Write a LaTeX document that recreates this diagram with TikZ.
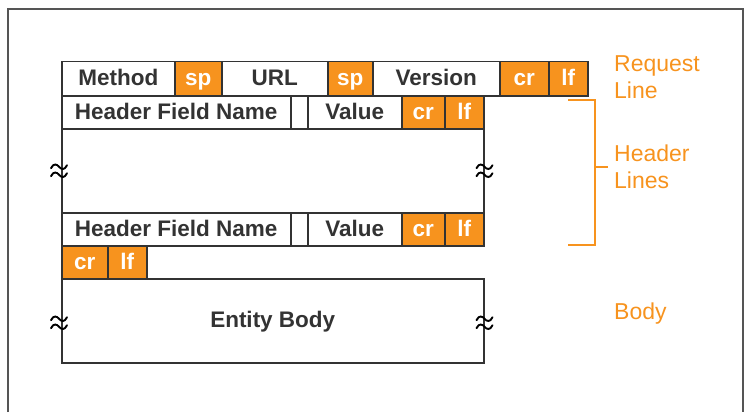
\documentclass[tikz,border=0pt]{standalone}
\usepackage{fontspec}
\setmainfont{Liberation Sans}
\definecolor{httporange}{HTML}{F7931E}
\definecolor{edge}{HTML}{333333}
\definecolor{frame}{HTML}{555555}
\tikzset{
  wavy/.pic={
    \foreach \dy in {-4,4}{
      \draw[black, line width=1.9pt, line cap=round]
        (-8,\dy+1.5) .. controls (-5.5,\dy-4) and (-2,\dy-2.5) .. (0,\dy)
        .. controls (2,\dy+2.5) and (5.5,\dy+4) .. (8,\dy-1.5);
    }
  }
}
\begin{document}
\begin{tikzpicture}[x=1pt,y=-1pt,
  cellbase/.style={draw=edge, line width=1.5pt, inner sep=0pt, anchor=north west,
    text height=17pt, text depth=3pt,
    font=\bfseries\fontsize{22.5}{22.5}\selectfont},
  wcell/.style={cellbase, fill=white, text=edge},
  ocell/.style={cellbase, fill=httporange, text=white},
  tag/.style={text=httporange, anchor=base west, inner sep=0pt,
    font=\fontsize{23}{23}\selectfont}]
\useasboundingbox (0,0) rectangle (749,412);
% outer frame (open at the bottom)
\draw[frame, line width=2pt] (8,412) -- (8,9) -- (743,9) -- (743,412);

% request line
\node[wcell, minimum width=113, minimum height=34] (method) at (61,61) {Method};
\node[ocell, minimum width=47, minimum height=34] (sp1) at (174,61) {sp};
\node[wcell, minimum width=106, minimum height=34] (url) at (221,61) {URL};
\node[ocell, minimum width=45, minimum height=34] (sp2) at (327,61) {sp};
\node[wcell, minimum width=127, minimum height=34] (ver) at (372,61) {Version};
\node[ocell, minimum width=49, minimum height=34] (cr1) at (499,61) {cr};
\node[ocell, minimum width=39, minimum height=34] (lf1) at (548,61) {lf};

% first header line
\node[wcell, minimum width=229, minimum height=33] (hfn1) at (61,95) {Header Field Name};
\node[wcell, minimum width=17, minimum height=33] (gap1) at (290,95) {};
\node[wcell, minimum width=94, minimum height=33] (val1) at (307,95) {Value};
\node[ocell, minimum width=43, minimum height=33] (cr2) at (401,95) {cr};
\node[ocell, minimum width=39, minimum height=33] (lf2) at (444,95) {lf};

% elided header lines
\node[draw=edge, line width=1.5pt, inner sep=0pt, anchor=north west,
  minimum width=422, minimum height=84] (mid) at (61,128) {};
\pic at ([xshift=-2pt]mid.west) {wavy};
\pic at (mid.east) {wavy};

% last header line
\node[wcell, minimum width=229, minimum height=33] (hfn2) at (61,212) {Header Field Name};
\node[wcell, minimum width=17, minimum height=33] (gap2) at (290,212) {};
\node[wcell, minimum width=94, minimum height=33] (val2) at (307,212) {Value};
\node[ocell, minimum width=43, minimum height=33] (cr3) at (401,212) {cr};
\node[ocell, minimum width=39, minimum height=33] (lf3) at (444,212) {lf};

% blank line
\node[ocell, minimum width=46, minimum height=33] (cr4) at (61,245) {cr};
\node[ocell, minimum width=39, minimum height=33] (lf4) at (107,245) {lf};

% entity body
\node[wcell, minimum width=422, minimum height=84] (body) at (61,278) {Entity Body};
\pic at ([xshift=-2pt,yshift=-2pt]body.west) {wavy};
\pic at ([yshift=-2pt]body.east) {wavy};

% header bracket
\coordinate (bt) at (568,100);
\coordinate (bb) at (568,245);
\draw[httporange, line width=2.5pt] (bt) -- ++(27,0) coordinate (btr) -- (btr |- bb) -- (bb);
\draw[httporange, line width=2.5pt] (595,167) -- (608,167);

% section labels
\node[tag] (lreq1) at (614,71) {Request};
\node[tag] (lreq2) at (614,98) {Line};
\node[tag] (lhdr1) at (614,161) {Header};
\node[tag] (lhdr2) at (614,188) {Lines};
\node[tag] (lbody) at (614,319.5) {Body};
\end{tikzpicture}
\end{document}
